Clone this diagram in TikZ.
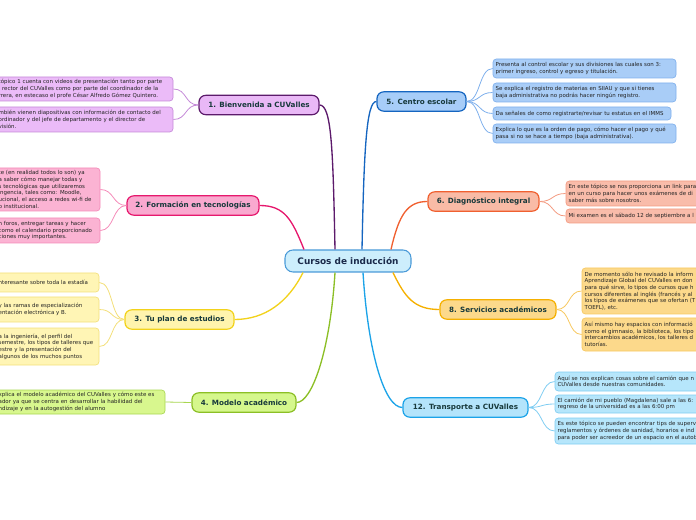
\documentclass[tikz,border=0pt]{standalone}
\usepackage{fontspec}
\setmainfont{DejaVu Sans}
\usetikzlibrary{calc}
\definecolor{rootFill}{HTML}{CDEEFC}
\definecolor{rootBorder}{HTML}{4A9AD8}
\definecolor{rootText}{HTML}{1B2A4A}
\definecolor{topicText}{HTML}{17393B}
\definecolor{leafText}{HTML}{222222}
\definecolor{fillBienv}{HTML}{E9B8F6}
\definecolor{borderBienv}{HTML}{5C1A6B}
\definecolor{leafBienv}{HTML}{EBBBF8}
\definecolor{edgeBienv}{HTML}{C58AD8}
\definecolor{fillTec}{HTML}{F9A9CF}
\definecolor{borderTec}{HTML}{E6186D}
\definecolor{leafTec}{HTML}{FBB3D3}
\definecolor{edgeTec}{HTML}{F48AB8}
\definecolor{fillPlan}{HTML}{FFF4AD}
\definecolor{borderPlan}{HTML}{F2D21B}
\definecolor{leafPlan}{HTML}{FFF5B5}
\definecolor{edgePlan}{HTML}{F3DF7A}
\definecolor{fillModelo}{HTML}{D5F78C}
\definecolor{borderModelo}{HTML}{8CBF26}
\definecolor{leafModelo}{HTML}{D8F78E}
\definecolor{edgeModelo}{HTML}{A8D650}
\definecolor{fillEscolar}{HTML}{A7CDF8}
\definecolor{borderEscolar}{HTML}{1565C0}
\definecolor{leafEscolar}{HTML}{A9CDF7}
\definecolor{edgeEscolar}{HTML}{7FB0EC}
\definecolor{fillDiag}{HTML}{F9BBA6}
\definecolor{borderDiag}{HTML}{F06030}
\definecolor{leafDiag}{HTML}{F9BCAA}
\definecolor{edgeDiag}{HTML}{F39A80}
\definecolor{fillServ}{HTML}{FCD98B}
\definecolor{borderServ}{HTML}{F5B000}
\definecolor{leafServ}{HTML}{FCD98B}
\definecolor{edgeServ}{HTML}{F7C860}
\definecolor{fillTrans}{HTML}{B4E4FB}
\definecolor{borderTrans}{HTML}{1CA3E8}
\definecolor{leafTrans}{HTML}{B6E6FB}
\definecolor{edgeTrans}{HTML}{7FCDF2}
\newcommand{\leafsize}{\fontsize{4.1}{5}\selectfont}
\newcommand{\topicsize}{\fontsize{5.4}{6}\selectfont\bfseries}
\newcommand{\rootsize}{\fontsize{6.7}{7}\selectfont\bfseries}

\begin{document}
\begin{tikzpicture}[
    x=0.75pt, y=-0.75pt,
    rootbox/.style={rectangle, rounded corners=6pt, draw=rootBorder, fill=rootFill,
                    line width=0.8pt, minimum width=94.5pt, minimum height=16.5pt,
                    font=\rootsize, text=rootText, inner sep=0pt},
    tbox/.style={rectangle, rounded corners=5pt, line width=0.9pt,
                 minimum height=14.5pt, font=\topicsize, text=topicText, inner sep=0pt},
    lbox/.style={rectangle, rounded corners=2.5pt, line width=0.5pt,
                 font=\leafsize, text=leafText, align=left, inner xsep=2pt, inner ysep=1pt},
    link/.style={line width=1pt},
    twig/.style={line width=0.6pt},
]
\useasboundingbox (0,0) rectangle (696,520);
\clip (0,0) rectangle (696,520);

% centre
\node[rootbox] (root) at (348,261) {Cursos de inducción};

% topics
\node[tbox, draw=borderBienv, fill=fillBienv, minimum width=90pt] (bienv) at (259,105) {1. Bienvenida a CUValles};
\node[tbox, draw=borderTec, fill=fillTec, minimum width=99pt] (tec) at (193,205.5) {2. Formación en tecnologías};
\node[tbox, draw=borderPlan, fill=fillPlan, minimum width=81.75pt] (plan) at (179.5,319.5) {3. Tu plan de estudios};
\node[tbox, draw=borderModelo, fill=fillModelo, minimum width=78pt] (modelo) at (244,402.5) {4. Modelo académico};
\node[tbox, draw=borderEscolar, fill=fillEscolar, minimum width=66.75pt] (escolar) at (421.5,101.5) {5. Centro escolar};
\node[tbox, draw=borderDiag, fill=fillDiag, minimum width=83.25pt] (diag) at (483.5,201.5) {6. Diagnóstico integral};
\node[tbox, draw=borderServ, fill=fillServ, minimum width=87pt] (serv) at (498,309.5) {8. Servicios académicos};
\node[tbox, draw=borderTrans, fill=fillTrans, minimum width=93.75pt] (trans) at (465.5,407.5) {12. Transporte a CUValles};

% leaves, left side
\node[lbox, draw=edgeBienv, fill=leafBienv, text width=128.75pt, minimum height=18pt] (bienvA) at (84.5,89)
  {tópico 1 cuenta con videos de presentación tanto por parte\\l rector del CUValles como por parte del coordinador de la\\rrera, en estecaso el profe César Alfredo Gómez Quintero.};
\node[lbox, draw=edgeBienv, fill=leafBienv, text width=128.75pt, minimum height=18.75pt] (bienvB) at (84.5,119.5)
  {mbién vienen diapositivas con información de contacto del\\ordinador y del jefe de departamento y el director de\\visión.};
\node[lbox, draw=edgeTec, fill=leafTec, text width=74pt, minimum height=32.25pt] (tecA) at (48,189.5)
  {te (en realidad todos lo son) ya\\a saber cómo manejar todas y\\s tecnológicas que utilizaremos\\ingencia, tales como: Moodle,\\ucional, el acceso a redes wi-fi de\\b institucional.};
\node[lbox, draw=edgeTec, fill=leafTec, text width=74pt, minimum height=18.75pt] (tecB) at (48,230.5)
  {n foros, entregar tareas y hacer\\ como el calendario proporcionado\\ciones muy importantes.};
\node[lbox, draw=edgePlan, fill=leafPlan, text width=73.25pt, minimum height=14.25pt] (planA) at (47.5,282.5)
  {nteresante sobre toda la estadía};
\node[lbox, draw=edgePlan, fill=leafPlan, text width=73.25pt, minimum height=18.75pt] (planB) at (47.5,309.5)
  {y las ramas de especialización\\entación electrónica y B.};
\node[lbox, draw=edgePlan, fill=leafPlan, text width=73.25pt, minimum height=27.75pt] (planC) at (47.5,346.5)
  { a la ingeniería, el perfil del\\semestre, los tipos de talleres que\\estre y la presentación del\\algunos de los muchos puntos};
\node[lbox, draw=edgeModelo, fill=leafModelo, text width=122.75pt, minimum height=18pt] (modeloA) at (80.5,402)
  {xplica el modelo académico del CUValles y cómo este es\\ador ya que se centra en desarrollar la habilidad del\\ndizaje y en la autogestión del alumno};

% leaves, right side
\node[lbox, draw=edgeEscolar, fill=leafEscolar, text width=133.25pt, minimum height=14.25pt] (escolarA) at (584.5,68.5)
  {Presenta al control escolar y sus divisiones las cuales son 3:\\primer ingreso, control y egreso y titulación.};
\node[lbox, draw=edgeEscolar, fill=leafEscolar, text width=133.25pt, minimum height=14.25pt] (escolarB) at (584.5,92.5)
  {Se explica el registro de materias en SIIAU y que si tienes\\baja administrativa no podrás hacer ningún registro.};
\node[lbox, draw=edgeEscolar, fill=leafEscolar, text width=129.5pt, minimum height=9.75pt] (escolarC) at (582,113.5)
  {Da señales de como registrarte/revisar tu estatus en el IMMS};
\node[lbox, draw=edgeEscolar, fill=leafEscolar, text width=133.25pt, minimum height=14.25pt] (escolarD) at (584.5,133.5)
  {Explica lo que es la orden de pago, cómo hacer el pago y qué\\pasa si no se hace a tiempo (baja administrativa).};
\node[lbox, draw=edgeDiag, fill=leafDiag, text width=141.5pt, minimum height=18.75pt] (diagA) at (663,193.5)
  {En este tópico se nos proporciona un link para\\en un curso para hacer unos exámenes de di\\saber más sobre nosotros.};
\node[lbox, draw=edgeDiag, fill=leafDiag, text width=141.5pt, minimum height=10.5pt] (diagB) at (663,216)
  {Mi examen es el sábado 12 de septiembre a l};
\node[lbox, draw=edgeServ, fill=leafServ, text width=129.5pt, minimum height=34.5pt] (servA) at (671,291)
  {De momento sólo he revisado la inform\\Aprendizaje Global del CUValles en don\\para qué sirve, lo tipos de cursos que h\\cursos diferentes al inglés (francés y al\\los tipos de exámenes que se ofertan (T\\TOEFL), etc.};
\node[lbox, draw=edgeServ, fill=leafServ, text width=129.5pt, minimum height=24.75pt] (servB) at (671,334.5)
  {Así mismo hay espacios con informació\\como el gimnasio, la biblioteca, los tipo\\intercambios académicos, los talleres d\\tutorías.};
\node[lbox, draw=edgeTrans, fill=leafTrans, text width=149.75pt, minimum height=14.25pt] (transA) at (657.5,381.5)
  {Aquí se nos explican cosas sobre el camión que n\\CUValles desde nuestras comunidades.};
\node[lbox, draw=edgeTrans, fill=leafTrans, text width=149.75pt, minimum height=13.5pt] (transB) at (657.5,404)
  {El camión de mi pueblo (Magdalena) sale a las 6:\\regreso de la universidad es a las 6:00 pm};
\node[lbox, draw=edgeTrans, fill=leafTrans, text width=149.75pt, minimum height=19.5pt] (transC) at (657.5,431)
  {Es este tópico se pueden encontrar tips de superv\\reglamentos y órdenes de sanidad, horarios e ind\\para poder ser acreedor de un espacio en el autob};

% where the branches leave the centre
\coordinate (rBienv) at ($(root.north)+(-13,0)$);
\coordinate (rTec) at ($(root.north)+(-44,0)$);
\coordinate (rEscolar) at ($(root.north)+(14,0)$);
\coordinate (rDiag) at ($(root.north)+(43,0)$);
\coordinate (rPlan) at ($(root.south)+(-45,0)$);
\coordinate (rModelo) at ($(root.south)+(-13,0)$);
\coordinate (rTrans) at ($(root.south)+(15,0)$);
\coordinate (rServ) at ($(root.south)+(45,0)$);

% branches
\draw[link, borderBienv] (rBienv) .. controls +(-2,-100) and +(12,0) .. (bienv.east);
\draw[link, borderTec] (rTec) .. controls +(-12,-30) and +(25,0) .. (tec.east);
\draw[link, borderEscolar] (rEscolar) .. controls +(2,-100) and +(-10,0) .. (escolar.west);
\draw[link, borderDiag] (rDiag) .. controls +(8,-35) and +(-20,0) .. (diag.west);
\draw[link, borderPlan] (rPlan) .. controls +(-15,30) and +(30,0) .. (plan.east);
\draw[link, borderModelo] (rModelo) .. controls +(-5,80) and +(15,0) .. (modelo.east);
\draw[link, borderTrans] (rTrans) .. controls +(5,80) and +(-18,0) .. (trans.west);
\draw[link, borderServ] (rServ) .. controls +(12,25) and +(-25,0) .. (serv.west);

% twigs
\draw[twig, edgeBienv] (bienv.west) .. controls +(-14,0) and +(14,0) .. (bienvA.east);
\draw[twig, edgeBienv] (bienv.west) .. controls +(-14,0) and +(14,0) .. (bienvB.east);
\draw[twig, edgeTec] (tec.west) .. controls +(-14,0) and +(14,0) .. (tecA.east);
\draw[twig, edgeTec] (tec.west) .. controls +(-14,0) and +(14,0) .. (tecB.east);
\draw[twig, edgePlan] (plan.west) .. controls +(-14,0) and +(14,0) .. (planA.east);
\draw[twig, edgePlan] (plan.west) .. controls +(-14,0) and +(14,0) .. (planB.east);
\draw[twig, edgePlan] (plan.west) .. controls +(-14,0) and +(14,0) .. (planC.east);
\draw[twig, edgeModelo] (modelo.west) -- (modeloA.east);
\draw[twig, edgeEscolar] (escolar.east) .. controls +(14,0) and +(-14,0) .. (escolarA.west);
\draw[twig, edgeEscolar] (escolar.east) .. controls +(14,0) and +(-14,0) .. (escolarB.west);
\draw[twig, edgeEscolar] (escolar.east) .. controls +(14,0) and +(-14,0) .. (escolarC.west);
\draw[twig, edgeEscolar] (escolar.east) .. controls +(14,0) and +(-14,0) .. (escolarD.west);
\draw[twig, edgeDiag] (diag.east) .. controls +(14,0) and +(-14,0) .. (diagA.west);
\draw[twig, edgeDiag] (diag.east) .. controls +(14,0) and +(-14,0) .. (diagB.west);
\draw[twig, edgeServ] (serv.east) .. controls +(14,0) and +(-14,0) .. (servA.west);
\draw[twig, edgeServ] (serv.east) .. controls +(14,0) and +(-14,0) .. (servB.west);
\draw[twig, edgeTrans] (trans.east) .. controls +(14,0) and +(-14,0) .. (transA.west);
\draw[twig, edgeTrans] (trans.east) .. controls +(14,0) and +(-14,0) .. (transB.west);
\draw[twig, edgeTrans] (trans.east) .. controls +(14,0) and +(-14,0) .. (transC.west);

\end{tikzpicture}
\end{document}
